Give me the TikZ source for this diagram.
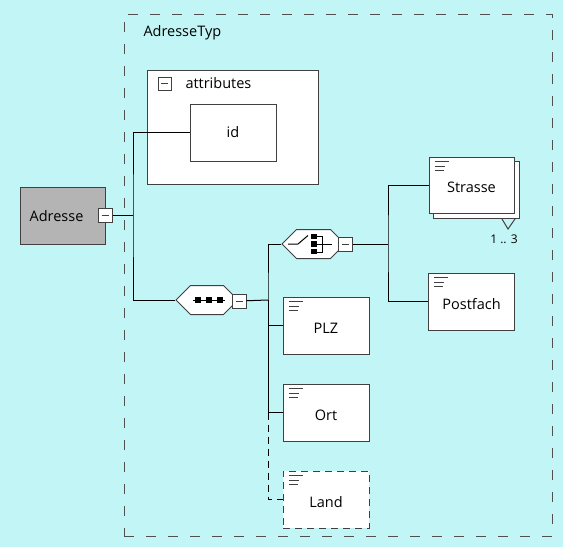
\documentclass[tikz,border=0pt]{standalone}
\usepackage{fontspec}
\setmainfont{Open Sans}
\usetikzlibrary{positioning,shapes.symbols}

\definecolor{bgcyan}{RGB}{194,245,245}
\definecolor{framegray}{RGB}{80,80,80}
\definecolor{boxline}{RGB}{64,64,64}
\definecolor{typegray}{RGB}{180,180,180}

\tikzset{
  elem/.style={draw=boxline,fill=white,minimum width=86pt,minimum height=57pt,
    inner sep=0pt,text height=15pt,text depth=0pt},
  optelem/.style={elem,dash pattern=on 7pt off 5pt},
  minusbox/.style={draw=boxline,fill=white,minimum size=14pt,inner sep=0pt,
    path picture={\draw[boxline,line width=0.8pt]
      ([xshift=-3.5pt]path picture bounding box.center) --
      ([xshift=3.5pt]path picture bounding box.center);}},
  model/.style={signal,signal to=west and east,draw=boxline,fill=white,
    minimum width=62pt,minimum height=29pt,inner sep=0pt},
  lbl/.style={inner sep=0pt}
}

\begin{document}
\begin{tikzpicture}[x=1pt,y=-1pt,line width=1pt,font=\fontsize{14.5}{17}\selectfont]

\useasboundingbox (0,0) rectangle (563,547);
\fill[bgcyan] (0,0) rectangle (563,547);

% complex type frame
\node[draw=framegray,dash pattern=on 10pt off 12pt,minimum width=428pt,minimum height=522pt] (Typ) at (338,275) {};
\node[lbl,anchor=west] (TypLbl) at (143,33) {AdresseTyp};

% root element
\node[draw=boxline,fill=typegray,minimum width=85pt,minimum height=57pt] (Adr) at (62.5,215.5) {};
\node[lbl] (AdrLbl) at (56.5,216) {Adresse};
\node[minusbox] (AdrMinus) at (105,215) {};

% attributes
\node[draw=boxline,fill=white,minimum width=171pt,minimum height=114pt] (Attr) at (232.5,127) {};
\node[minusbox,minimum size=13pt] (AttrMinus) at (164.5,83.5) {};
\node[lbl,anchor=west] (AttrLbl) at (185,83) {attributes};
\node[draw=boxline,fill=white,minimum width=86pt,minimum height=57pt] (Id) at (233,132.5) {id};

% sequence
\node[model] (Seq) at (207,300) {};
\begin{scope}[shift={(Seq.center)}]
  \draw[line width=1pt] (-14,0) -- (18,0);
  \foreach \dx in {-9,2,13}
    \fill (\dx-2.75,-2.75) rectangle (\dx+2.75,2.75);
\end{scope}
\node[minusbox] (SeqMinus) at (239,301) {};

% choice
\node[model,minimum width=63pt] (Cho) at (313.5,244) {};
\begin{scope}[shift={(Cho.center)}]
  \draw (-25.5,0) -- (-15.5,0) -- (-5.5,-8.5);
  \foreach \dy in {-7.7,0,7.7}
    \fill (-2.1,\dy-2.75) rectangle (3.4,\dy+2.75);
  \draw (3.4,-7.2) -- (8.5,-7.2) -- (8.5,8) -- (3.4,8);
  \draw (3.4,0) -- (18.5,0);
\end{scope}
\node[minusbox] (ChoMinus) at (345.5,244) {};

% choice elements
\node[elem] (StrShadow) at (476.5,190) {};
\node[elem,minimum width=85pt,minimum height=56pt] (Str) at (471.5,185) {Strasse};
\draw[boxline] ([xshift=-18pt]StrShadow.south east) -- ++(6pt,-10pt) -- ([xshift=-5pt]StrShadow.south east);
\node[lbl,font=\fontsize{12}{14}\selectfont] (Occ) at (504,239) {1 .. 3};
\node[elem,below=59pt of Str.south,anchor=north] (Pfa) {Postfach};

% sequence elements
\node[elem] (Plz) at (326,325.5) {PLZ};
\node[elem,below=29pt of Plz] (Ort) {Ort};
\node[optelem,below=29pt of Ort] (Land) {Land};

% element icons
\foreach \n in {Str,Pfa,Plz,Ort,Land}
  \draw[boxline,line width=0.8pt]
    ([xshift=6pt,yshift=-5pt]\n.north west) -- ++(14pt,0)
    ([xshift=6pt,yshift=-9.5pt]\n.north west) -- ++(10pt,0)
    ([xshift=6pt,yshift=-14pt]\n.north west) -- ++(9pt,0);

% connectors
\coordinate (J1) at (133,215);
\coordinate (J2) at (268,300);
\coordinate (J3) at (388,244);
\coordinate (J4) at (J2 |- Ort.west);

\draw (AdrMinus) -- (J1);
\draw (Id.west) -| (J1) |- (Seq.west);
\draw (SeqMinus) -- (J2);
\draw (Cho.west) -| (J2) |- (Plz.west);
\draw (J2) |- (Ort.west);
\draw[dash pattern=on 7pt off 5pt] (J4) |- (Land.west);
\draw (ChoMinus) -- (J3);
\draw (Str.west) -| (J3) |- (Pfa.west);

\end{tikzpicture}
\end{document}
